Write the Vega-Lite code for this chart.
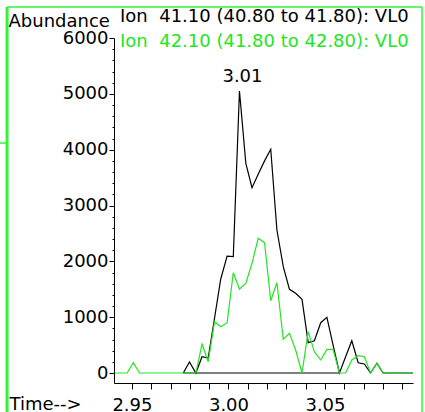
{
  "$schema": "https://vega.github.io/schema/vega-lite/v6.json",
  "width": 299,
  "height": 345,
  "autosize": "none",
  "padding": {"left": 114, "top": 38, "right": 12, "bottom": 29},
  "background": "white",
  "config": {
    "view": {"stroke": null},
    "font": "DejaVu Sans",
    "text": {"font": "DejaVu Sans"}
  },
  "title": {
    "text": "Ion \u00a041.10 (40.80 to 41.80): VL0",
    "subtitle": "Ion \u00a042.10 (41.80 to 42.80): VL0",
    "anchor": "start",
    "frame": "group",
    "dx": 6,
    "offset": -45,
    "font": "DejaVu Sans",
    "fontSize": 18,
    "fontWeight": "normal",
    "color": "black",
    "subtitleFont": "DejaVu Sans",
    "subtitleFontSize": 18,
    "subtitleColor": "#22e622",
    "subtitlePadding": 7
  },
  "datasets": {
    "chromatogram": [
      {"time": 2.9410, "ion": "42.10", "abundance": 0},
      {"time": 2.9442, "ion": "42.10", "abundance": 0},
      {"time": 2.9475, "ion": "42.10", "abundance": 0},
      {"time": 2.9507, "ion": "42.10", "abundance": 184},
      {"time": 2.9539, "ion": "42.10", "abundance": 0},
      {"time": 2.9572, "ion": "42.10", "abundance": 0},
      {"time": 2.9604, "ion": "42.10", "abundance": 0},
      {"time": 2.9637, "ion": "42.10", "abundance": 0},
      {"time": 2.9669, "ion": "42.10", "abundance": 0},
      {"time": 2.9701, "ion": "42.10", "abundance": 0},
      {"time": 2.9734, "ion": "42.10", "abundance": 0},
      {"time": 2.9766, "ion": "42.10", "abundance": 0},
      {"time": 2.9798, "ion": "42.10", "abundance": 0},
      {"time": 2.9831, "ion": "42.10", "abundance": 0},
      {"time": 2.9863, "ion": "42.10", "abundance": 519},
      {"time": 2.9895, "ion": "42.10", "abundance": 202},
      {"time": 2.9928, "ion": "42.10", "abundance": 919},
      {"time": 2.9960, "ion": "42.10", "abundance": 829},
      {"time": 2.9993, "ion": "42.10", "abundance": 901},
      {"time": 3.0025, "ion": "42.10", "abundance": 1796},
      {"time": 3.0057, "ion": "42.10", "abundance": 1499},
      {"time": 3.0090, "ion": "42.10", "abundance": 1607},
      {"time": 3.0122, "ion": "42.10", "abundance": 1965},
      {"time": 3.0154, "ion": "42.10", "abundance": 2412},
      {"time": 3.0187, "ion": "42.10", "abundance": 2334},
      {"time": 3.0219, "ion": "42.10", "abundance": 1295},
      {"time": 3.0251, "ion": "42.10", "abundance": 1617},
      {"time": 3.0284, "ion": "42.10", "abundance": 604},
      {"time": 3.0316, "ion": "42.10", "abundance": 711},
      {"time": 3.0348, "ion": "42.10", "abundance": 412},
      {"time": 3.0381, "ion": "42.10", "abundance": 0},
      {"time": 3.0413, "ion": "42.10", "abundance": 740},
      {"time": 3.0445, "ion": "42.10", "abundance": 381},
      {"time": 3.0478, "ion": "42.10", "abundance": 233},
      {"time": 3.0510, "ion": "42.10", "abundance": 424},
      {"time": 3.0542, "ion": "42.10", "abundance": 424},
      {"time": 3.0575, "ion": "42.10", "abundance": 0},
      {"time": 3.0607, "ion": "42.10", "abundance": 0},
      {"time": 3.0639, "ion": "42.10", "abundance": 233},
      {"time": 3.0672, "ion": "42.10", "abundance": 310},
      {"time": 3.0704, "ion": "42.10", "abundance": 292},
      {"time": 3.0736, "ion": "42.10", "abundance": 0},
      {"time": 3.0769, "ion": "42.10", "abundance": 174},
      {"time": 3.0801, "ion": "42.10", "abundance": 0},
      {"time": 3.0833, "ion": "42.10", "abundance": 0},
      {"time": 3.0866, "ion": "42.10", "abundance": 0},
      {"time": 3.0898, "ion": "42.10", "abundance": 0},
      {"time": 3.0930, "ion": "42.10", "abundance": 0},
      {"time": 3.0963, "ion": "42.10", "abundance": 0},
      {"time": 2.9766, "ion": "41.10", "abundance": 0},
      {"time": 2.9798, "ion": "41.10", "abundance": 197},
      {"time": 2.9831, "ion": "41.10", "abundance": 0},
      {"time": 2.9863, "ion": "41.10", "abundance": 292},
      {"time": 2.9895, "ion": "41.10", "abundance": 269},
      {"time": 2.9928, "ion": "41.10", "abundance": 985},
      {"time": 2.9960, "ion": "41.10", "abundance": 1684},
      {"time": 2.9993, "ion": "41.10", "abundance": 2095},
      {"time": 3.0025, "ion": "41.10", "abundance": 2083},
      {"time": 3.0057, "ion": "41.10", "abundance": 5051},
      {"time": 3.0090, "ion": "41.10", "abundance": 3756},
      {"time": 3.0122, "ion": "41.10", "abundance": 3319},
      {"time": 3.0154, "ion": "41.10", "abundance": 3559},
      {"time": 3.0187, "ion": "41.10", "abundance": 3799},
      {"time": 3.0219, "ion": "41.10", "abundance": 4007},
      {"time": 3.0251, "ion": "41.10", "abundance": 2561},
      {"time": 3.0284, "ion": "41.10", "abundance": 1904},
      {"time": 3.0316, "ion": "41.10", "abundance": 1499},
      {"time": 3.0348, "ion": "41.10", "abundance": 1427},
      {"time": 3.0381, "ion": "41.10", "abundance": 1320},
      {"time": 3.0413, "ion": "41.10", "abundance": 543},
      {"time": 3.0445, "ion": "41.10", "abundance": 578},
      {"time": 3.0478, "ion": "41.10", "abundance": 901},
      {"time": 3.0510, "ion": "41.10", "abundance": 998},
      {"time": 3.0542, "ion": "41.10", "abundance": 501},
      {"time": 3.0575, "ion": "41.10", "abundance": 0},
      {"time": 3.0607, "ion": "41.10", "abundance": 292},
      {"time": 3.0639, "ion": "41.10", "abundance": 578},
      {"time": 3.0672, "ion": "41.10", "abundance": 184},
      {"time": 3.0704, "ion": "41.10", "abundance": 161},
      {"time": 3.0736, "ion": "41.10", "abundance": 0},
      {"time": 3.0769, "ion": "41.10", "abundance": 174},
      {"time": 3.0801, "ion": "41.10", "abundance": 0},
      {"time": 3.0833, "ion": "41.10", "abundance": 0},
      {"time": 3.0866, "ion": "41.10", "abundance": 0},
      {"time": 3.0898, "ion": "41.10", "abundance": 0},
      {"time": 3.0930, "ion": "41.10", "abundance": 0},
      {"time": 3.0963, "ion": "41.10", "abundance": 0}
    ],
    "baseline": [
      {"time": 2.9766, "end": 3.0575, "abundance": 0}
    ],
    "frame": [
      {"time": 2.8853, "end": 3.1003, "abundance": 6555, "bottom": -895, "outer": 2.8810, "stub": 4119}
    ]
  },
  "encoding": {
    "x": {
      "field": "time",
      "type": "quantitative",
      "scale": {"domain": [2.9407, 3.0956], "nice": false, "zero": false},
      "axis": {
        "title": "Time-->",
        "values": [2.95, 2.96, 2.97, 2.98, 2.99, 3.0, 3.01, 3.02, 3.03, 3.04, 3.05, 3.06, 3.07, 3.08, 3.09],
        "labelExpr": "abs(datum.value * 100 - round(datum.value * 20) * 5) < 0.01 ? format(datum.value, '.2f') : ''",
        "grid": false,
        "domainColor": "black",
        "domainWidth": 1,
        "tickColor": "black",
        "tickSize": 6,
        "tickWidth": 1,
        "labelFont": "DejaVu Sans",
        "labelFontSize": 18,
        "labelColor": "black",
        "labelPadding": 7,
        "labelFlush": false,
        "labelOverlap": false,
        "titleFont": "DejaVu Sans",
        "titleFontSize": 18,
        "titleFontWeight": "normal",
        "titleColor": "black",
        "titleAlign": "left",
        "titleBaseline": "middle",
        "titleX": -105,
        "titleY": 21
      }
    },
    "y": {
      "field": "abundance",
      "type": "quantitative",
      "scale": {"domain": [-179, 6000], "nice": false, "zero": false},
      "axis": {
        "title": "Abundance",
        "values": [0, 200, 400, 600, 800, 1000, 1200, 1400, 1600, 1800, 2000, 2200, 2400, 2600, 2800, 3000, 3200, 3400, 3600, 3800, 4000, 4200, 4400, 4600, 4800, 5000, 5200, 5400, 5600, 5800, 6000],
        "labelExpr": "datum.value % 1000 === 0 ? format(datum.value, 'd') : ''",
        "grid": false,
        "domainColor": "black",
        "domainWidth": 1,
        "tickColor": "black",
        "tickSize": {"condition": {"test": "datum.value % 1000 === 0", "value": 5}, "value": 2},
        "tickWidth": 1,
        "labelFont": "DejaVu Sans",
        "labelFontSize": 18,
        "labelColor": "black",
        "labelPadding": 1,
        "labelFlush": false,
        "labelOverlap": false,
        "titleFont": "DejaVu Sans",
        "titleFontSize": 18,
        "titleFontWeight": "normal",
        "titleColor": "black",
        "titleAngle": 0,
        "titleAlign": "left",
        "titleBaseline": "middle",
        "titleX": -106,
        "titleY": -17
      }
    }
  },
  "layer": [
    {
      "data": {"name": "frame"},
      "mark": {"type": "rule", "color": "#33f533", "strokeWidth": 3, "clip": false},
      "encoding": {
        "y2": {"field": "bottom"}
      }
    },
    {
      "data": {"name": "frame"},
      "mark": {"type": "rule", "color": "#33f533", "strokeWidth": 1.5, "clip": false},
      "encoding": {
        "x2": {"field": "end"}
      }
    },
    {
      "data": {"name": "frame"},
      "mark": {"type": "rule", "color": "#33f533", "strokeWidth": 1.5, "clip": false},
      "encoding": {
        "x": {"field": "end", "type": "quantitative"},
        "y2": {"field": "bottom"}
      }
    },
    {
      "data": {"name": "frame"},
      "mark": {"type": "rule", "color": "#33f533", "strokeWidth": 1.5, "clip": false},
      "encoding": {
        "x": {"field": "outer", "type": "quantitative"},
        "x2": {"field": "time"},
        "y": {"field": "stub", "type": "quantitative"}
      }
    },
    {
      "data": {"name": "baseline"},
      "mark": {"type": "rule", "color": "black", "strokeWidth": 1.2},
      "encoding": {
        "x2": {"field": "end"}
      }
    },
    {
      "data": {"name": "chromatogram"},
      "transform": [{"filter": "datum.ion === '41.10'"}],
      "mark": {"type": "line", "color": "black", "strokeWidth": 1.2, "clip": true}
    },
    {
      "data": {"name": "chromatogram"},
      "transform": [{"filter": "datum.ion === '42.10'"}],
      "mark": {"type": "line", "color": "#22e622", "strokeWidth": 1.2, "clip": true}
    },
    {
      "data": {"name": "chromatogram"},
      "transform": [
        {"filter": "datum.ion === '41.10'"},
        {"joinaggregate": [{"op": "max", "field": "abundance", "as": "peak"}]},
        {"filter": "datum.abundance === datum.peak"}
      ],
      "mark": {"type": "text", "baseline": "bottom", "align": "center", "dx": 3, "dy": -5, "fontSize": 18, "font": "DejaVu Sans", "color": "black"},
      "encoding": {
        "text": {"field": "time", "type": "quantitative", "format": ".2f"}
      }
    }
  ]
}
